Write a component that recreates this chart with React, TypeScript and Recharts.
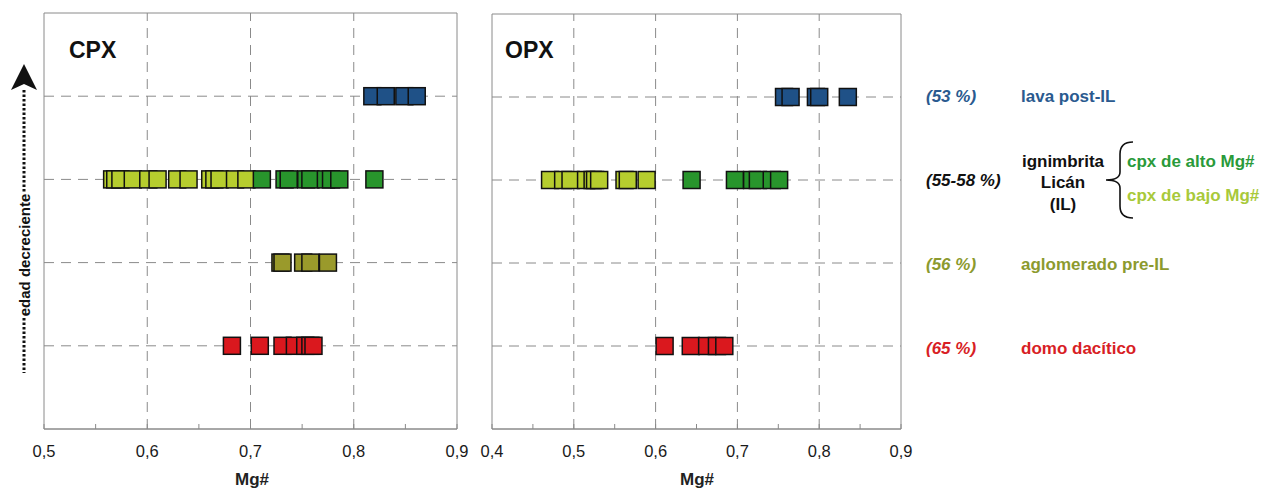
import React from 'react';
import { ScatterChart, Scatter, XAxis, YAxis, ReferenceLine, ReferenceArea } from 'recharts';

// Row positions (decreasing age upward)
const rowDomo = 1;
const rowAglom = 2;
const rowIgn = 3;
const rowLava = 4;

// CPX Mg# values
const cpxLava = [0.818, 0.831, 0.849, 0.861];
const cpxIgnLow = [0.566, 0.569, 0.574, 0.586, 0.601, 0.610, 0.629, 0.640, 0.661, 0.665, 0.670, 0.685, 0.696];
const cpxIgnHigh = [0.711, 0.733, 0.737, 0.754, 0.758, 0.773, 0.778, 0.786, 0.820];
const cpxAglom = [0.729, 0.731, 0.751, 0.758, 0.775];
const cpxDomo = [0.682, 0.709, 0.731, 0.743, 0.753, 0.758, 0.761];

// OPX Mg# values
const opxLava = [0.757, 0.765, 0.796, 0.800, 0.835];
const opxIgnLow = [0.471, 0.487, 0.496, 0.515, 0.523, 0.526, 0.531, 0.562, 0.566, 0.589];
const opxIgnHigh = [0.644, 0.697, 0.718, 0.725, 0.742, 0.751];
const opxDomo = [0.611, 0.643, 0.663, 0.675, 0.684];

// Axis ticks
const cpxTicks = [0.5, 0.55, 0.6, 0.65, 0.7, 0.75, 0.8, 0.85, 0.9];
const opxTicks = [0.4, 0.45, 0.5, 0.55, 0.6, 0.65, 0.7, 0.75, 0.8, 0.85, 0.9];
const cpxGrid = [0.6, 0.7, 0.8];
const opxGrid = [0.5, 0.6, 0.7, 0.8];
const rowTicks = [1, 2, 3, 4];

const C_BLUE = '#1f5187';
const C_LIGHT = '#b6cd2e';
const C_GREEN = '#28952c';
const C_OLIVE = '#9a9a2b';
const C_RED = '#da181e';

const FONT = '"Liberation Sans", Arial, Helvetica, sans-serif';
const GRID = '#8a8a8a';

const toPts = (vals: number[], row: number) => vals.map((v) => ({ x: v, y: row }));

const makeSquare = (fill: string) => (props: any) => {
  const { cx, cy } = props;
  const s = 17;
  return <rect x={cx - s / 2} y={cy - s / 2} width={s} height={s} fill={fill} stroke="#111" strokeWidth={1.5} />;
};

const isMajor = (v: number) => Math.abs(v * 10 - Math.round(v * 10)) < 1e-6;
const fmtTick = (v: number) => (isMajor(v) ? v.toFixed(1).replace('.', ',') : '');

type Series = { vals: number[]; row: number; color: string; name: string };

const Panel = ({
  left, top, width, margin, domain, ticks, grid, series,
}: {
  left: number; top: number; width: number; margin: any; domain: [number, number];
  ticks: number[]; grid: number[]; series: Series[];
}) => (
  <div style={{ position: 'absolute', left, top }}>
    <ScatterChart width={width} height={493} margin={margin}>
      <XAxis
        type="number"
        dataKey="x"
        domain={domain}
        ticks={ticks}
        allowDataOverflow
        height={30}
        tickSize={5}
        tickMargin={11}
        tickLine={false}
        axisLine={{ stroke: GRID }}
        tick={{ fontSize: 16.5, fill: '#1a1a1a', fontFamily: FONT }}
        tickFormatter={fmtTick}
        interval={0}
      />
      <XAxis
        xAxisId="inner"
        type="number"
        dataKey="x"
        domain={domain}
        ticks={ticks}
        allowDataOverflow
        mirror
        tickSize={5}
        tickLine={{ stroke: GRID }}
        axisLine={false}
        tickFormatter={() => ''}
        interval={0}
      />
      <YAxis
        type="number"
        dataKey="y"
        domain={[0, 5]}
        ticks={rowTicks}
        width={0}
        mirror
        tickSize={6}
        tickLine={{ stroke: GRID }}
        axisLine={false}
        tickFormatter={() => ''}
        interval={0}
      />
      {grid.map((g) => (
        <ReferenceLine key={'v' + g} x={g} stroke={GRID} strokeDasharray="10 7" strokeWidth={1} />
      ))}
      {rowTicks.map((r) => (
        <ReferenceLine key={'h' + r} y={r} stroke={GRID} strokeDasharray="10 7" strokeWidth={1} />
      ))}
      <ReferenceArea x1={domain[0]} x2={domain[1]} y1={0} y2={5} fill="none" stroke={GRID} strokeWidth={1} fillOpacity={0} />
      {series.map((s) => (
        <Scatter
          key={s.name}
          name={s.name}
          data={toPts(s.vals, s.row)}
          shape={makeSquare(s.color)}
          isAnimationActive={false}
        />
      ))}
    </ScatterChart>
  </div>
);

export default function App() {
  const cpxSeries: Series[] = [
    { vals: cpxLava, row: rowLava, color: C_BLUE, name: 'cpxLava' },
    { vals: cpxIgnLow, row: rowIgn, color: C_LIGHT, name: 'cpxIgnLow' },
    { vals: cpxIgnHigh, row: rowIgn, color: C_GREEN, name: 'cpxIgnHigh' },
    { vals: cpxAglom, row: rowAglom, color: C_OLIVE, name: 'cpxAglom' },
    { vals: cpxDomo, row: rowDomo, color: C_RED, name: 'cpxDomo' },
  ];
  const opxSeries: Series[] = [
    { vals: opxLava, row: rowLava, color: C_BLUE, name: 'opxLava' },
    { vals: opxIgnLow, row: rowIgn, color: C_LIGHT, name: 'opxIgnLow' },
    { vals: opxIgnHigh, row: rowIgn, color: C_GREEN, name: 'opxIgnHigh' },
    { vals: opxDomo, row: rowDomo, color: C_RED, name: 'opxDomo' },
  ];
  const lg = { fontFamily: FONT, fontSize: 17, fontWeight: 700 } as const;
  return (
    <div style={{ position: 'absolute', left: 0, top: 0, width: 1276, height: 493, background: '#fff', overflow: 'hidden' }}>
      <Panel left={0} top={0} width={470} margin={{ top: 13, left: 44, right: 13, bottom: 34 }}
        domain={[0.5, 0.9]} ticks={cpxTicks} grid={cpxGrid} series={cpxSeries} />
      <Panel left={480} top={0} width={445} margin={{ top: 14, left: 12, right: 24, bottom: 34 }}
        domain={[0.4, 0.9]} ticks={opxTicks} grid={opxGrid} series={opxSeries} />
      <svg width={1276} height={493} style={{ position: 'absolute', left: 0, top: 0, pointerEvents: 'none' }}>
        {/* panel titles */}
        <text x={69} y={58} fontFamily={FONT} fontSize={23} fontWeight={700} fill="#111">CPX</text>
        <text x={505} y={58} fontFamily={FONT} fontSize={23} fontWeight={700} fill="#111">OPX</text>
        {/* x axis titles */}
        <text x={252} y={485} textAnchor="middle" fontFamily={FONT} fontSize={17} fontWeight={700} fill="#222">Mg#</text>
        <text x={697} y={485} textAnchor="middle" fontFamily={FONT} fontSize={17} fontWeight={700} fill="#222">Mg#</text>
        {/* age arrow */}
        <path d="M24,64 L37,90 L24,84 L11,90 Z" fill="#111" />
        <line x1={24} y1={90} x2={24} y2={193} stroke="#111" strokeWidth={3} strokeDasharray="2.5 2" />
        <line x1={24} y1={318} x2={24} y2={373} stroke="#111" strokeWidth={3} strokeDasharray="2.5 2" />
        <text x={0} y={0} transform="translate(30,255) rotate(-90)" textAnchor="middle" fontFamily={FONT} fontSize={15} fontWeight={700} fill="#111">edad decreciente</text>
        {/* legend */}
        <text x={926} y={102} {...lg} fontStyle="italic" fill="#2a5a8f">(53 %)</text>
        <text x={1021} y={102} {...lg} fill="#2a5a8f">lava post-IL</text>
        <text x={926} y={186} {...lg} fontStyle="italic" fill="#111">(55-58 %)</text>
        <text x={1063} y={167} {...lg} textAnchor="middle" fill="#111">ignimbrita</text>
        <text x={1063} y={188} {...lg} textAnchor="middle" fill="#111">Licán</text>
        <text x={1063} y={210} {...lg} textAnchor="middle" fill="#111">(IL)</text>
        <path d="M1133,142 Q1120,142 1120,154 L1120,172 Q1120,180 1106,180 Q1120,180 1120,188 L1120,206 Q1120,218 1133,218" fill="none" stroke="#111" strokeWidth={1.6} />
        <text x={1127} y={167} {...lg} fill="#2a9a3a">cpx de alto Mg#</text>
        <text x={1127} y={201} {...lg} fill="#a8c93a">cpx de bajo Mg#</text>
        <text x={926} y={270} {...lg} fontStyle="italic" fill="#8c9a2e">(56 %)</text>
        <text x={1021} y={270} {...lg} fill="#8c9a2e">aglomerado pre-IL</text>
        <text x={926} y={354} {...lg} fontStyle="italic" fill="#d81e25">(65 %)</text>
        <text x={1021} y={354} {...lg} fill="#d81e25">domo dacítico</text>
      </svg>
    </div>
  );
}
